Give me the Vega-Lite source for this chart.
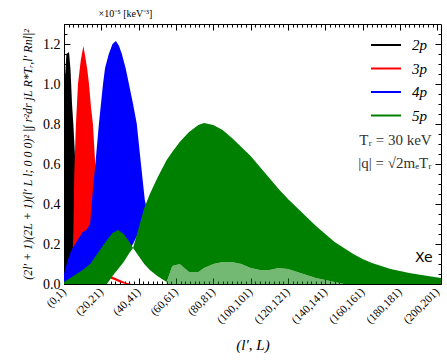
{
  "$schema": "https://vega.github.io/schema/vega-lite/v6.json",
  "autosize": "none",
  "width": 377,
  "height": 260,
  "padding": {"left": 64, "top": 24, "right": 6, "bottom": 78},
  "background": "white",
  "config": {
    "view": {"stroke": "black", "strokeWidth": 1},
    "font": "Liberation Serif",
    "axis": {"labelFont": "Liberation Serif", "titleFont": "Liberation Serif", "labelColor": "black", "titleColor": "black", "domainColor": "black", "tickColor": "black", "grid": false, "titleFontWeight": "normal"}
  },
  "title": {"text": "×10⁻⁵ [keV⁻³]", "anchor": "start", "dx": 77, "offset": 5, "fontSize": 10, "font": "Liberation Serif", "fontWeight": "normal", "color": "black"},
  "datasets": {
    "bands": [
      {"s": "2p", "b": "a", "x": 0, "lo": 0, "hi": 0.95},
      {"s": "2p", "b": "a", "x": 1.3, "lo": 0, "hi": 1.15},
      {"s": "2p", "b": "a", "x": 2.7, "lo": 0, "hi": 1.16},
      {"s": "2p", "b": "a", "x": 3.5, "lo": 0, "hi": 1.07},
      {"s": "2p", "b": "a", "x": 4.3, "lo": 0, "hi": 0.9},
      {"s": "2p", "b": "a", "x": 5, "lo": 0, "hi": 0.8},
      {"s": "2p", "b": "a", "x": 6, "lo": 0, "hi": 0.62},
      {"s": "2p", "b": "a", "x": 7, "lo": 0, "hi": 0.42},
      {"s": "2p", "b": "a", "x": 8, "lo": 0, "hi": 0.28},
      {"s": "2p", "b": "a", "x": 8.5, "lo": 0, "hi": 0.2},
      {"s": "2p", "b": "a", "x": 9, "lo": 0, "hi": 0.12},
      {"s": "2p", "b": "a", "x": 10, "lo": 0, "hi": 0.05},
      {"s": "2p", "b": "a", "x": 11, "lo": 0, "hi": 0.0},
      {"s": "2p", "b": "b", "x": 8, "lo": 0.05, "hi": 0.09},
      {"s": "2p", "b": "b", "x": 10, "lo": 0.05, "hi": 0.08},
      {"s": "2p", "b": "b", "x": 12, "lo": 0.03, "hi": 0.06},
      {"s": "2p", "b": "b", "x": 14, "lo": 0.01, "hi": 0.03},
      {"s": "2p", "b": "b", "x": 16, "lo": 0, "hi": 0.01},
      {"s": "3p", "b": "a", "x": 4, "lo": 0, "hi": 0},
      {"s": "3p", "b": "a", "x": 5, "lo": 0, "hi": 0.25},
      {"s": "3p", "b": "a", "x": 5.5, "lo": 0, "hi": 0.55},
      {"s": "3p", "b": "a", "x": 6.4, "lo": 0, "hi": 0.8},
      {"s": "3p", "b": "a", "x": 7.5, "lo": 0, "hi": 1.0},
      {"s": "3p", "b": "a", "x": 9, "lo": 0, "hi": 1.12},
      {"s": "3p", "b": "a", "x": 10.4, "lo": 0, "hi": 1.19},
      {"s": "3p", "b": "a", "x": 11.5, "lo": 0, "hi": 1.13},
      {"s": "3p", "b": "a", "x": 12.5, "lo": 0, "hi": 1.07},
      {"s": "3p", "b": "a", "x": 13.4, "lo": 0, "hi": 1.0},
      {"s": "3p", "b": "a", "x": 14.5, "lo": 0, "hi": 0.88},
      {"s": "3p", "b": "a", "x": 15.5, "lo": 0, "hi": 0.8},
      {"s": "3p", "b": "a", "x": 16.6, "lo": 0, "hi": 0.62},
      {"s": "3p", "b": "a", "x": 17.5, "lo": 0, "hi": 0.48},
      {"s": "3p", "b": "a", "x": 18.5, "lo": 0, "hi": 0.32},
      {"s": "3p", "b": "a", "x": 19.5, "lo": 0, "hi": 0.18},
      {"s": "3p", "b": "a", "x": 20.5, "lo": 0, "hi": 0.08},
      {"s": "3p", "b": "a", "x": 21.5, "lo": 0.02, "hi": 0.05},
      {"s": "3p", "b": "a", "x": 24, "lo": 0.03, "hi": 0.045},
      {"s": "3p", "b": "a", "x": 27, "lo": 0.02, "hi": 0.033},
      {"s": "3p", "b": "a", "x": 30, "lo": 0.008, "hi": 0.02},
      {"s": "3p", "b": "a", "x": 33, "lo": 0.0, "hi": 0.008},
      {"s": "3p", "b": "a", "x": 36, "lo": 0, "hi": 0.0},
      {"s": "4p", "b": "a", "x": 0, "lo": 0, "hi": 0.05},
      {"s": "4p", "b": "a", "x": 2, "lo": 0, "hi": 0.12},
      {"s": "4p", "b": "a", "x": 4, "lo": 0, "hi": 0.17},
      {"s": "4p", "b": "a", "x": 6, "lo": 0, "hi": 0.2},
      {"s": "4p", "b": "a", "x": 8, "lo": 0, "hi": 0.23},
      {"s": "4p", "b": "a", "x": 10, "lo": 0, "hi": 0.26},
      {"s": "4p", "b": "a", "x": 12, "lo": 0, "hi": 0.27},
      {"s": "4p", "b": "a", "x": 14, "lo": 0, "hi": 0.3},
      {"s": "4p", "b": "a", "x": 15, "lo": 0, "hi": 0.42},
      {"s": "4p", "b": "a", "x": 16, "lo": 0, "hi": 0.52},
      {"s": "4p", "b": "a", "x": 17, "lo": 0, "hi": 0.62},
      {"s": "4p", "b": "a", "x": 18.7, "lo": 0, "hi": 0.8},
      {"s": "4p", "b": "a", "x": 20.9, "lo": 0, "hi": 1.0},
      {"s": "4p", "b": "a", "x": 22, "lo": 0.02, "hi": 1.08},
      {"s": "4p", "b": "a", "x": 24, "lo": 0.04, "hi": 1.15},
      {"s": "4p", "b": "a", "x": 26, "lo": 0.06, "hi": 1.2},
      {"s": "4p", "b": "a", "x": 27.8, "lo": 0.09, "hi": 1.215},
      {"s": "4p", "b": "a", "x": 29.5, "lo": 0.11, "hi": 1.19},
      {"s": "4p", "b": "a", "x": 31, "lo": 0.13, "hi": 1.15},
      {"s": "4p", "b": "a", "x": 33, "lo": 0.15, "hi": 1.08},
      {"s": "4p", "b": "a", "x": 34.8, "lo": 0.17, "hi": 1.0},
      {"s": "4p", "b": "a", "x": 37, "lo": 0.2, "hi": 0.9},
      {"s": "4p", "b": "a", "x": 39, "lo": 0.24, "hi": 0.8},
      {"s": "4p", "b": "a", "x": 41, "lo": 0.28, "hi": 0.62},
      {"s": "4p", "b": "a", "x": 43.3, "lo": 0.33, "hi": 0.42},
      {"s": "4p", "b": "a", "x": 45, "lo": 0.35, "hi": 0.35},
      {"s": "5p", "b": "a", "x": 0, "lo": 0, "hi": 0.01},
      {"s": "5p", "b": "a", "x": 5, "lo": 0, "hi": 0.04},
      {"s": "5p", "b": "a", "x": 10, "lo": 0, "hi": 0.07},
      {"s": "5p", "b": "a", "x": 14, "lo": 0, "hi": 0.1},
      {"s": "5p", "b": "a", "x": 17, "lo": 0, "hi": 0.14},
      {"s": "5p", "b": "a", "x": 20, "lo": 0, "hi": 0.18},
      {"s": "5p", "b": "a", "x": 23, "lo": 0, "hi": 0.22},
      {"s": "5p", "b": "a", "x": 26, "lo": 0.04, "hi": 0.255},
      {"s": "5p", "b": "a", "x": 29, "lo": 0.075, "hi": 0.27},
      {"s": "5p", "b": "a", "x": 32, "lo": 0.11, "hi": 0.25},
      {"s": "5p", "b": "a", "x": 35, "lo": 0.155, "hi": 0.21},
      {"s": "5p", "b": "a", "x": 37, "lo": 0.18, "hi": 0.18},
      {"s": "5p", "b": "a", "x": 40, "lo": 0.14, "hi": 0.28},
      {"s": "5p", "b": "a", "x": 43, "lo": 0.1, "hi": 0.38},
      {"s": "5p", "b": "a", "x": 46, "lo": 0.07, "hi": 0.45},
      {"s": "5p", "b": "a", "x": 50, "lo": 0.04, "hi": 0.53},
      {"s": "5p", "b": "a", "x": 55, "lo": 0.01, "hi": 0.62},
      {"s": "5p", "b": "a", "x": 58, "lo": 0.09, "hi": 0.66},
      {"s": "5p", "b": "a", "x": 62, "lo": 0.1, "hi": 0.71},
      {"s": "5p", "b": "a", "x": 67, "lo": 0.06, "hi": 0.76},
      {"s": "5p", "b": "a", "x": 72, "lo": 0.06, "hi": 0.795},
      {"s": "5p", "b": "a", "x": 75, "lo": 0.08, "hi": 0.805},
      {"s": "5p", "b": "a", "x": 80, "lo": 0.1, "hi": 0.795},
      {"s": "5p", "b": "a", "x": 85, "lo": 0.11, "hi": 0.77},
      {"s": "5p", "b": "a", "x": 90, "lo": 0.11, "hi": 0.73},
      {"s": "5p", "b": "a", "x": 95, "lo": 0.1, "hi": 0.685},
      {"s": "5p", "b": "a", "x": 100, "lo": 0.08, "hi": 0.64},
      {"s": "5p", "b": "a", "x": 105, "lo": 0.07, "hi": 0.585},
      {"s": "5p", "b": "a", "x": 110, "lo": 0.07, "hi": 0.53},
      {"s": "5p", "b": "a", "x": 115, "lo": 0.08, "hi": 0.475},
      {"s": "5p", "b": "a", "x": 120, "lo": 0.075, "hi": 0.425},
      {"s": "5p", "b": "a", "x": 125, "lo": 0.06, "hi": 0.38},
      {"s": "5p", "b": "a", "x": 130, "lo": 0.045, "hi": 0.335},
      {"s": "5p", "b": "a", "x": 135, "lo": 0.03, "hi": 0.29},
      {"s": "5p", "b": "a", "x": 140, "lo": 0.02, "hi": 0.25},
      {"s": "5p", "b": "a", "x": 145, "lo": 0.01, "hi": 0.21},
      {"s": "5p", "b": "a", "x": 150, "lo": 0.0, "hi": 0.18},
      {"s": "5p", "b": "a", "x": 155, "lo": 0, "hi": 0.15},
      {"s": "5p", "b": "a", "x": 160, "lo": 0, "hi": 0.125},
      {"s": "5p", "b": "a", "x": 165, "lo": 0, "hi": 0.105},
      {"s": "5p", "b": "a", "x": 170, "lo": 0, "hi": 0.09},
      {"s": "5p", "b": "a", "x": 175, "lo": 0, "hi": 0.075},
      {"s": "5p", "b": "a", "x": 180, "lo": 0, "hi": 0.065},
      {"s": "5p", "b": "a", "x": 185, "lo": 0, "hi": 0.055},
      {"s": "5p", "b": "a", "x": 190, "lo": 0, "hi": 0.047},
      {"s": "5p", "b": "a", "x": 195, "lo": 0, "hi": 0.04},
      {"s": "5p", "b": "a", "x": 202, "lo": 0, "hi": 0.03}
    ],
    "light": [
      {"x": 55, "lo": 0, "hi": 0.01},
      {"x": 58, "lo": 0, "hi": 0.09},
      {"x": 62, "lo": 0, "hi": 0.1},
      {"x": 67, "lo": 0, "hi": 0.06},
      {"x": 72, "lo": 0, "hi": 0.06},
      {"x": 75, "lo": 0, "hi": 0.08},
      {"x": 80, "lo": 0, "hi": 0.1},
      {"x": 85, "lo": 0, "hi": 0.11},
      {"x": 90, "lo": 0, "hi": 0.11},
      {"x": 95, "lo": 0, "hi": 0.1},
      {"x": 100, "lo": 0, "hi": 0.08},
      {"x": 105, "lo": 0, "hi": 0.07},
      {"x": 110, "lo": 0, "hi": 0.07},
      {"x": 115, "lo": 0, "hi": 0.08},
      {"x": 120, "lo": 0, "hi": 0.075},
      {"x": 125, "lo": 0, "hi": 0.06},
      {"x": 130, "lo": 0, "hi": 0.045},
      {"x": 135, "lo": 0, "hi": 0.03},
      {"x": 140, "lo": 0, "hi": 0.02},
      {"x": 145, "lo": 0, "hi": 0.01},
      {"x": 150, "lo": 0, "hi": 0.0}
    ]
  },
  "layer": [
    {
      "data": {"name": "bands"},
      "transform": [{"filter": "datum.s == '2p'"}],
      "mark": {"type": "area", "interpolate": "linear"},
      "encoding": {
        "x": {"field": "x", "type": "quantitative", "scale": {"domain": [0, 202], "nice": false, "zero": false},
          "axis": {"orient": "bottom", "values": [0, 20, 40, 60, 80, 100, 120, 140, 160, 180, 200], "labelExpr": "'(' + datum.value + ',' + (datum.value + 1) + ')'", "labelAngle": -45, "labelAlign": "right", "labelBaseline": "middle", "labelFontSize": 11.5, "labelOverlap": false, "tickSize": -6, "labelPadding": 12, "domain": true, "title": "(l′, L)", "titleFontSize": 15, "titleFontStyle": "italic", "titlePadding": 12}},
        "y": {"field": "hi", "type": "quantitative", "scale": {"domain": [0, 1.3], "nice": false},
          "axis": {"orient": "left", "values": [0, 0.2, 0.4, 0.6, 0.8, 1.0, 1.2], "format": ".1f", "labelFontSize": 14, "tickSize": -6, "labelPadding": 10, "title": "(2l′ + 1)(2L + 1)(l′ L l; 0 0 0)² |∫ r²dr jL R*Tᵣ,l′ Rnl|²", "titleFontSize": 12, "titleFontStyle": "italic", "titlePadding": 8}},
        "y2": {"field": "lo"},
        "detail": {"field": "b"},
        "color": {"field": "s", "type": "nominal", "scale": {"domain": ["2p", "3p", "4p", "5p"], "range": ["#000000", "#ff0000", "#0000ff", "#008000"]},
          "legend": {"orient": "none", "legendX": 306, "legendY": 11, "padding": 0, "title": null, "symbolType": "stroke", "symbolSize": 900, "symbolStrokeWidth": 2, "clipHeight": 20, "labelFontSize": 15, "labelFont": "Liberation Serif", "labelFontStyle": "italic", "rowPadding": 3.5, "labelOffset": 10,
            "encode": {"symbols": {"update": {"stroke": {"scale": "color", "field": "value"}}}}}}
      }
    },
    {
      "data": {"name": "bands"},
      "transform": [{"filter": "datum.s == '3p'"}],
      "mark": {"type": "area", "interpolate": "linear"},
      "encoding": {
        "x": {"field": "x", "type": "quantitative", "axis": {"orient": "top", "values": [0, 20, 40, 60, 80, 100, 120, 140, 160, 180, 200], "labels": false, "tickSize": -6, "title": null, "domain": false}},
        "y": {"field": "hi", "type": "quantitative", "axis": {"orient": "right", "values": [0, 0.2, 0.4, 0.6, 0.8, 1.0, 1.2], "labels": false, "tickSize": -6, "title": null, "domain": false}},
        "y2": {"field": "lo"},
        "detail": {"field": "b"},
        "color": {"field": "s", "type": "nominal"}
      }
    },
    {
      "data": {"name": "bands"},
      "transform": [{"filter": "datum.s == '4p'"}],
      "mark": {"type": "area", "interpolate": "linear"},
      "encoding": {
        "x": {"field": "x", "type": "quantitative", "axis": {"orient": "top", "values": [2.5, 5, 7.5, 10, 12.5, 15, 17.5, 22.5, 25, 27.5, 30, 32.5, 35, 37.5, 42.5, 45, 47.5, 50, 52.5, 55, 57.5, 62.5, 65, 67.5, 70, 72.5, 75, 77.5, 82.5, 85, 87.5, 90, 92.5, 95, 97.5, 102.5, 105, 107.5, 110, 112.5, 115, 117.5, 122.5, 125, 127.5, 130, 132.5, 135, 137.5, 142.5, 145, 147.5, 150, 152.5, 155, 157.5, 162.5, 165, 167.5, 170, 172.5, 175, 177.5, 182.5, 185, 187.5, 190, 192.5, 195, 197.5], "labels": false, "tickSize": -3, "title": null, "domain": false}},
        "y": {"field": "hi", "type": "quantitative", "axis": {"orient": "right", "values": [0.05, 0.1, 0.15, 0.25, 0.3, 0.35, 0.45, 0.5, 0.55, 0.65, 0.7, 0.75, 0.85, 0.9, 0.95, 1.05, 1.1, 1.15, 1.25], "labels": false, "tickSize": -3, "title": null, "domain": false}},
        "y2": {"field": "lo"},
        "detail": {"field": "b"},
        "color": {"field": "s", "type": "nominal"}
      }
    },
    {
      "data": {"name": "bands"},
      "transform": [{"filter": "datum.s == '5p'"}],
      "mark": {"type": "area", "interpolate": "linear"},
      "encoding": {
        "x": {"field": "x", "type": "quantitative", "axis": {"orient": "bottom", "values": [2.5, 5, 7.5, 10, 12.5, 15, 17.5, 22.5, 25, 27.5, 30, 32.5, 35, 37.5, 42.5, 45, 47.5, 50, 52.5, 55, 57.5, 62.5, 65, 67.5, 70, 72.5, 75, 77.5, 82.5, 85, 87.5, 90, 92.5, 95, 97.5, 102.5, 105, 107.5, 110, 112.5, 115, 117.5, 122.5, 125, 127.5, 130, 132.5, 135, 137.5, 142.5, 145, 147.5, 150, 152.5, 155, 157.5, 162.5, 165, 167.5, 170, 172.5, 175, 177.5, 182.5, 185, 187.5, 190, 192.5, 195, 197.5], "labels": false, "tickSize": -3, "title": null, "domain": false}},
        "y": {"field": "hi", "type": "quantitative", "axis": {"orient": "left", "values": [0.05, 0.1, 0.15, 0.25, 0.3, 0.35, 0.45, 0.5, 0.55, 0.65, 0.7, 0.75, 0.85, 0.9, 0.95, 1.05, 1.1, 1.15, 1.25], "labels": false, "tickSize": -3, "title": null, "domain": false}},
        "y2": {"field": "lo"},
        "detail": {"field": "b"},
        "color": {"field": "s", "type": "nominal"}
      }
    },
    {
      "data": {"name": "light"},
      "mark": {"type": "area", "interpolate": "linear", "color": "#008000", "opacity": 0.55},
      "encoding": {
        "x": {"field": "x", "type": "quantitative", "axis": null},
        "y": {"field": "hi", "type": "quantitative", "axis": null},
        "y2": {"field": "lo"}
      }
    },
    {
      "data": {"values": [{}]},
      "mark": {"type": "text", "text": "Tᵣ = 30 keV", "align": "right", "baseline": "middle", "fontSize": 15, "font": "Liberation Serif", "color": "#333333"},
      "encoding": {
        "x": {"datum": 197, "type": "quantitative", "axis": null},
        "y": {"datum": 0.72, "type": "quantitative", "axis": null}
      }
    },
    {
      "data": {"values": [{}]},
      "mark": {"type": "text", "text": "|q| = √2mₑTᵣ", "align": "right", "baseline": "middle", "fontSize": 15, "font": "Liberation Serif", "color": "#333333"},
      "encoding": {
        "x": {"datum": 197, "type": "quantitative", "axis": null},
        "y": {"datum": 0.605, "type": "quantitative", "axis": null}
      }
    },
    {
      "data": {"values": [{}]},
      "mark": {"type": "text", "text": "Xe", "align": "right", "baseline": "middle", "fontSize": 14, "font": "DejaVu Sans", "color": "black"},
      "encoding": {
        "x": {"datum": 197.5, "type": "quantitative", "axis": null},
        "y": {"datum": 0.13, "type": "quantitative", "axis": null}
      }
    }
  ],
  "resolve": {"axis": {"x": "independent", "y": "independent"}}
}
